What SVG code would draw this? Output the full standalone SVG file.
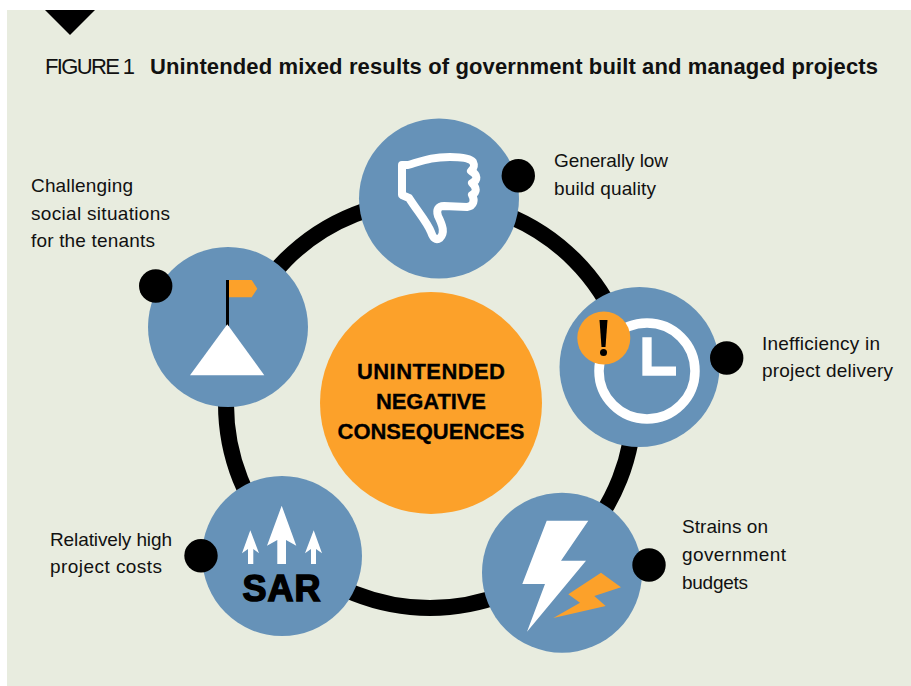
<svg xmlns="http://www.w3.org/2000/svg" width="911" height="686" viewBox="0 0 911 686">
<style>
.t{font-family:"Liberation Sans",Arial,sans-serif;font-size:19px;fill:#111}
.c{font-family:"Liberation Sans",Arial,sans-serif;font-size:22px;font-weight:700;fill:#000;text-anchor:middle;stroke:#000;stroke-width:.3}
.n{fill:#6692b8}
.d{fill:#000}
.o{fill:#fca12a}
.w{fill:#fff}
</style>
<rect width="911" height="686" fill="#fff"/>
<rect x="7" y="10" width="904" height="676" fill="#e8ecdf"/>
<polygon points="45,10 95,10 70,35" fill="#000"/>
<text x="45" y="74" textLength="90" lengthAdjust="spacing" style="font-family:'Liberation Sans',Arial,sans-serif;font-size:22px;fill:#111">FIGURE 1</text>
<text x="150" y="74" textLength="728" lengthAdjust="spacing" style="font-family:'Liberation Sans',Arial,sans-serif;font-size:22px;font-weight:700;fill:#111">Unintended mixed results of government built and managed projects</text>
<g id="connectors"><circle cx="430" cy="404" r="204" fill="none" stroke="#000" stroke-width="16"/></g>
<g id="center"><circle class="o" cx="431" cy="403" r="111"/>
<text class="c" x="431" y="379" textLength="148">UNINTENDED</text><text class="c" x="431" y="408.500" textLength="110">NEGATIVE</text><text class="c" x="431" y="438.500" textLength="187">CONSEQUENCES</text></g>
<g id="node-quality"><circle class="n" cx="439" cy="198.5" r="80"/>
<path d="M402 165 L408 165 C425 160 432 157 450 157 C462 157 470 158 473 162 C475 166 474 168 471 171 C478 175 478 180 472 183 C477 188 477 192 472 195 C475 200 474 206 467 207 L444 206 C438 206 436 210 438 216 C443 226 445 233 440 238 C436 241 433 238 431 232 C427 222 418 212 409 198 L402 195 Z" fill="none" stroke="#fff" stroke-width="8" stroke-linejoin="round"/>
<circle class="d" cx="518.3" cy="175.7" r="16.7"/>
<text class="t" x="554" y="167" textLength="114">Generally low</text><text class="t" x="554" y="195" textLength="102">build quality</text></g>
<g id="node-delivery"><circle class="n" cx="639.5" cy="367" r="80"/>
<circle cx="647" cy="371" r="48" fill="none" stroke="#fff" stroke-width="9.500"/>
<path d="M647 337.300 V371.200 H676" fill="none" stroke="#fff" stroke-width="9.300"/>
<circle class="o" cx="603.800" cy="338" r="26.500"/>
<path d="M599.500 320 H607.500 L605.500 347 H601.500 Z" fill="#000"/><circle class="d" cx="603.500" cy="352.500" r="3.500"/>
<circle class="d" cx="726.7" cy="358" r="16.7"/>
<text class="t" x="762" y="350" textLength="118">Inefficiency in</text><text class="t" x="762" y="377" textLength="131">project delivery</text></g>
<g id="node-budgets"><circle class="n" cx="562" cy="572.7" r="80"/>
<polygon class="w" points="546.700,520.700 588.300,520.700 561,560.700 586,560.700 527,631.700 545,584 522.300,584"/>
<polygon class="o" points="601,572.700 621,587.300 594.300,596 605.700,606 553.300,618 580,602.700 568.300,594.300"/>
<circle class="d" cx="649" cy="565" r="16.7"/>
<text class="t" x="682" y="533" textLength="86">Strains on</text><text class="t" x="682" y="561" textLength="104">government</text><text class="t" x="682" y="589" textLength="66">budgets</text></g>
<g id="node-costs"><circle class="n" cx="282" cy="556" r="80"/>
<polygon class="w" points="281.700,505.700 296.300,545.700 286,540 286,564 277.300,564 277.300,540 267,545.700"/>
<polygon class="w" points="250.300,530.300 259,553.300 253.300,549 253.300,564 248,564 248,549 242,553.300"/>
<polygon class="w" points="313.700,530.300 322,553.300 316,549 316,564 311,564 311,549 305,553.300"/>
<text x="281.500" y="601" text-anchor="middle" textLength="78" style="font-family:'Liberation Sans',Arial,sans-serif;font-weight:700;font-size:36px;stroke:#000;stroke-width:1.500;fill:#000">SAR</text>
<circle class="d" cx="201" cy="555.700" r="16.7"/>
<text class="t" x="50" y="546" textLength="122">Relatively high</text><text class="t" x="50" y="573" textLength="112">project costs</text></g>
<g id="node-social"><circle class="n" cx="228" cy="327" r="80"/>
<rect class="d" x="226" y="280" width="3" height="46"/>
<polygon class="o" points="229,280 251.700,280 257.300,288.700 251.700,297.300 229,297.300"/>
<polygon class="w" points="227.300,324.300 264.300,375.300 190,375.300"/>
<circle class="d" cx="155.700" cy="286" r="16.7"/>
<text class="t" x="31" y="192" textLength="102">Challenging</text><text class="t" x="31" y="220" textLength="139">social situations</text><text class="t" x="31" y="247" textLength="124">for the tenants</text></g>
</svg>
